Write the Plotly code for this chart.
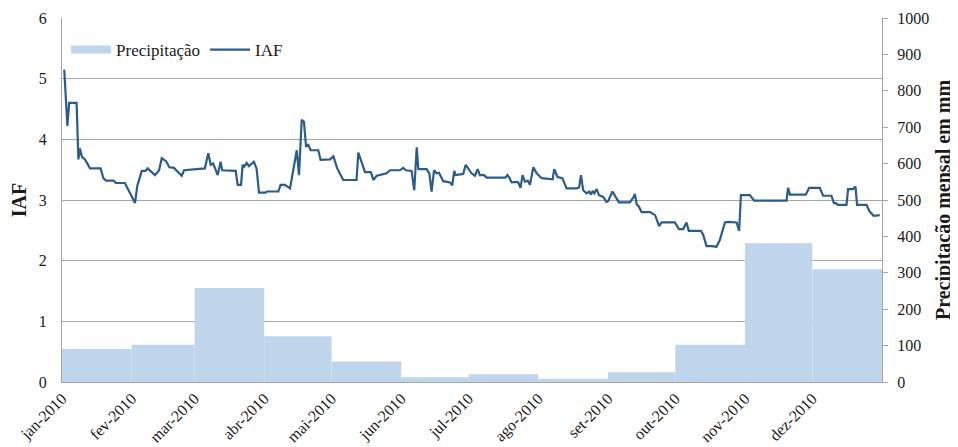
import pandas as pd
import plotly.graph_objects as go

# ─── Data ─────────────────────────────────────────────────────────────────────
month_starts = ["2010-01-01", "2010-02-01", "2010-03-01", "2010-04-01",
                "2010-05-01", "2010-06-01", "2010-07-01", "2010-08-01",
                "2010-09-01", "2010-10-01", "2010-11-01", "2010-12-01"]
month_labels = ["jan-2010", "fev-2010", "mar-2010", "abr-2010", "mai-2010",
                "jun-2010", "jul-2010", "ago-2010", "set-2010", "out-2010",
                "nov-2010", "dez-2010"]
precip_mm = [91, 102, 258, 126, 56, 13, 21, 9, 27, 102, 381, 310]

# IAF readings: day of year (days after 1 Jan 2010) and value
iaf_day = [1, 2.4, 3.2, 6.5, 7.3, 8, 8.9, 10.2, 11.3, 12.5, 17.2, 18.4, 19.6, 23,
           24, 28, 32.5, 33.5, 35.5, 37.2, 38.1, 39.5, 41.4, 43.2, 44.4, 46.3,
           47.8, 49.8, 51.3, 53.3, 54.3, 63.6, 65.1, 66.2, 67.3, 69.3, 70.6, 71.3,
           77.3, 78.2, 79.7, 80.4, 81.1, 82.2, 83.2, 84.4, 85.4, 86.6, 87.7, 90.6,
           91.1, 96.3, 97.3, 99.2, 101.5, 104.5, 105.5, 106.7, 107.7, 108.6, 109.6,
           110.7, 114.1, 115.1, 119.3, 120.8, 122.5, 125.2, 131.1, 131.9, 134.9,
           137.5, 138.6, 140.1, 142.3, 144.5, 146, 150.4, 151.9, 153.1, 155.6,
           156.8, 157.9, 158.6, 162.3, 163.5, 164.5, 165.6, 166.7, 167.8, 169.7,
           172.7, 173.7, 174.6, 175.2, 178.6, 179.7, 182.3, 183.8, 185, 186, 187.9,
           189, 197.4, 198.3, 199.1, 200.1, 202.4, 203.1, 204.1, 205, 206.1, 207.3,
           208.3, 209.8, 211.3, 213.5, 218.4, 219.1, 220.6, 222.7, 224.6, 229.1,
           230.2, 231, 232, 233.5, 234.7, 235.4, 236.2, 236.9, 238, 239, 240.9,
           242.4, 243.1, 245, 246.4, 247.9, 252.8, 254.3, 255, 255.8, 256.8, 258,
           261.7, 264, 265.8, 266.9, 272.8, 274.6, 276.5, 278, 279, 284.4, 285.4,
           286.9, 289.1, 291.3, 292.8, 295.1, 296.5, 300.3, 301.4, 302.2, 306.2,
           308.1, 322.5, 323.2, 324, 331.1, 332.6, 337.3, 338.8, 342.5, 343.6,
           344.4, 345.4, 349.2, 349.9, 352.1, 353.2, 353.9, 358.1, 359.5, 361.3, 364]
iaf_val = [5.15, 4.22, 4.60, 4.60, 3.67, 3.85, 3.71, 3.67, 3.60, 3.52, 3.52, 3.36,
           3.32, 3.32, 3.28, 3.28, 2.95, 3.23, 3.48, 3.48, 3.52, 3.47, 3.41, 3.49,
           3.69, 3.64, 3.54, 3.53, 3.47, 3.40, 3.49, 3.52, 3.77, 3.58, 3.60, 3.41,
           3.63, 3.49, 3.48, 3.25, 3.25, 3.58, 3.55, 3.61, 3.56, 3.60, 3.63, 3.52,
           3.12, 3.12, 3.14, 3.14, 3.25, 3.25, 3.19, 3.82, 3.41, 4.32, 4.29, 3.89,
           3.91, 3.82, 3.82, 3.66, 3.67, 3.72, 3.52, 3.33, 3.33, 3.78, 3.46, 3.46,
           3.33, 3.40, 3.42, 3.44, 3.49, 3.49, 3.53, 3.49, 3.48, 3.16, 3.87, 3.51,
           3.51, 3.44, 3.14, 3.49, 3.44, 3.45, 3.31, 3.29, 3.24, 3.48, 3.41, 3.43,
           3.58, 3.44, 3.40, 3.51, 3.41, 3.41, 3.37, 3.37, 3.41, 3.37, 3.29, 3.30,
           3.29, 3.20, 3.41, 3.30, 3.32, 3.25, 3.54, 3.44, 3.36, 3.34, 3.51, 3.38,
           3.36, 3.19, 3.19, 3.21, 3.41, 3.16, 3.11, 3.14, 3.09, 3.15, 3.11, 3.18,
           3.08, 3.05, 2.97, 2.98, 3.14, 3.05, 2.96, 2.96, 3.04, 3.10, 2.93, 2.89,
           2.80, 2.80, 2.75, 2.57, 2.63, 2.63, 2.52, 2.52, 2.63, 2.49, 2.49, 2.43,
           2.24, 2.24, 2.23, 2.34, 2.63, 2.64, 2.63, 2.49, 3.08, 3.08, 2.99, 2.99,
           3.20, 3.09, 3.09, 3.20, 3.20, 3.07, 3.07, 2.95, 2.95, 2.92, 2.92, 3.18,
           3.18, 3.22, 2.92, 2.92, 2.81, 2.74, 2.75]

# ─── Derived positions ────────────────────────────────────────────────────────
starts = pd.to_datetime(month_starts)
ends = list(starts[1:]) + [pd.Timestamp("2011-01-01")]
widths_ms = [(e - s).total_seconds() * 1000 for s, e in zip(starts, ends)]
iaf_dates = pd.Timestamp("2010-01-01") + pd.to_timedelta(iaf_day, unit="D")

SERIF = "Liberation Serif, Times New Roman, serif"
GRID = "#a6a6a6"
BAR = "#bed5ec"

fig = go.Figure()

fig.add_trace(go.Bar(
    x=starts, y=precip_mm, width=widths_ms, offset=0,
    marker=dict(color=BAR, line=dict(width=0)),
    name="Precipitação", yaxis="y2", showlegend=False
))

# legend proxy so the swatch is a wide block like the original
fig.add_trace(go.Scatter(
    x=[None], y=[None], mode="lines",
    line=dict(color=BAR, width=8),
    name="Precipitação", yaxis="y2"
))

fig.add_trace(go.Scatter(
    x=iaf_dates, y=iaf_val, mode="lines",
    line=dict(color="#2a5c8d", width=2.2),
    name="IAF", yaxis="y"
))

# page body has an 8px margin, so the figure is sized/offset to compensate
fig.update_layout(
    width=950, height=439,
    margin=dict(l=54, r=76, t=10, b=65),
    paper_bgcolor="white", plot_bgcolor="white",
    font=dict(family=SERIF, size=16, color="#1a1a1a"),
    showlegend=True,
    legend=dict(orientation="h", x=0.005, y=0.912, xanchor="left", yanchor="middle",
                bgcolor="rgba(0,0,0,0)", font=dict(size=17), itemwidth=40,
                traceorder="normal"),
    xaxis=dict(type="date", range=["2010-01-01", "2011-01-01"],
               tickvals=month_starts, ticktext=month_labels, tickangle=-45,
               showgrid=False, showline=True, linecolor=GRID, linewidth=1,
               ticks="", zeroline=False, automargin=False),
    yaxis=dict(range=[0, 6], dtick=1, showgrid=True, gridcolor=GRID, gridwidth=1,
               showline=True, linecolor=GRID, zeroline=False, ticks="",
               ticklabelstandoff=11, automargin=False,
               title=dict(text="<b>IAF</b>", font=dict(size=20), standoff=10)),
    yaxis2=dict(range=[0, 1000], dtick=100, overlaying="y", side="right",
                showgrid=False, showline=True, linecolor=GRID, zeroline=False,
                ticks="outside", ticklen=5, tickcolor=GRID, ticklabelstandoff=6,
                automargin=False,
                title=dict(text="<b>Precipitação mensal em mm</b>",
                           font=dict(size=20), standoff=7)),
)

fig.write_html("out.html")
